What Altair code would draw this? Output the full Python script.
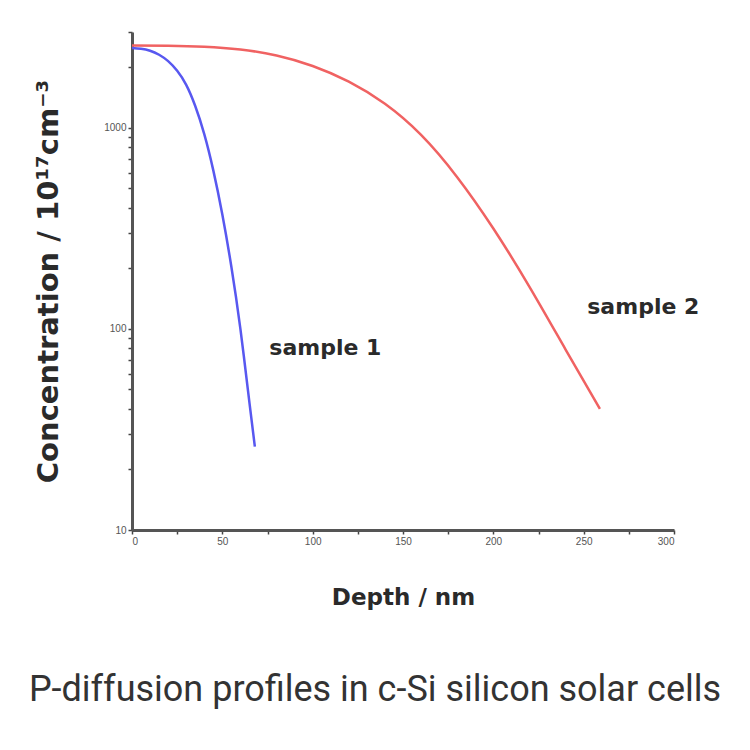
import altair as alt
import pandas as pd

# Sample 1 (blue) profile
depth1 = [0, 5, 10, 15, 20, 25, 30, 35, 40, 45, 50, 55, 60, 65, 68]
conc1 = [2500, 2477, 2421, 2312, 2148, 1923, 1637, 1285, 931, 615, 371, 204, 100, 43, 26]

# Sample 2 (red) profile
depth2 = [0, 20, 40, 60, 80, 100, 120, 140, 160, 180, 200, 220, 240, 259]
conc2 = [2570, 2564, 2535, 2455, 2291, 2032, 1698, 1318, 923, 569, 316, 162, 79, 40]

# annotations
label_text = ["sample 1", "sample 2"]
label_x = [76, 252]
label_y = [80, 128]

x_ticks = [0, 25, 50, 75, 100, 125, 150, 175, 200, 225, 250, 275, 300]
y_ticks = [10, 20, 30, 40, 50, 60, 70, 80, 90, 100, 200, 300, 400, 500, 600, 700, 800, 900, 1000, 2000, 3000]

caption = "P-diffusion profiles in c-Si silicon solar cells"

df = pd.concat([
    pd.DataFrame({"depth": depth1, "conc": conc1, "sample": "sample 1"}),
    pd.DataFrame({"depth": depth2, "conc": conc2, "sample": "sample 2"}),
])
lab = pd.DataFrame({"text": label_text, "depth": label_x, "conc": label_y})

W, H = 542, 498

xs = alt.X("depth:Q", scale=alt.Scale(domain=[0, 300], nice=False),
           axis=alt.Axis(values=x_ticks, title="Depth / nm",
                         labelExpr="datum.value % 50 == 0 ? datum.label : ''",
                         labelFontSize=10, labelColor="#555", labelFont="Liberation Sans",
                         tickColor="#444", tickSize=4, tickWidth=1.5,
                         domainColor="#555", domainWidth=3, grid=False,
                         titleFont="DejaVu Sans", titleFontSize=23, titleFontWeight="bold",
                         titleColor="#2a2a2a", titlePadding=40))
ys = alt.Y("conc:Q", scale=alt.Scale(type="log", domain=[10, 3000], nice=False),
           axis=alt.Axis(values=y_ticks, title="Concentration / 10¹⁷cm⁻³",
                         labelExpr="(datum.value == 10 || datum.value == 100 || datum.value == 1000) ? '' + datum.value : ''",
                         labelFontSize=10, labelColor="#555", labelFont="Liberation Sans",
                         tickColor="#444", tickSize=4, tickWidth=1.5,
                         domainColor="#555", domainWidth=3, grid=False,
                         titleFont="DejaVu Sans", titleFontSize=29, titleFontWeight="bold",
                         titleColor="#2a2a2a", titlePadding=40))

lines = alt.Chart(df).mark_line(strokeWidth=2.5, interpolate="natural").encode(
    x=xs, y=ys,
    color=alt.Color("sample:N", scale=alt.Scale(domain=["sample 1", "sample 2"],
                                                 range=["#5858f0", "#f06262"]), legend=None),
)

labels = alt.Chart(lab).mark_text(align="left", baseline="middle", font="DejaVu Sans",
                                  fontWeight="bold", fontSize=22, color="#2a2a2a").encode(
    x="depth:Q", y="conc:Q", text="text:N")

cap = alt.Chart(pd.DataFrame({"t": [caption]})).mark_text(
    align="center", baseline="middle", font="Roboto", fontSize=36, color="#333").encode(
    x=alt.value(243), y=alt.value(658), text="t:N")

chart = alt.layer(lines, labels, cap).properties(
    width=W, height=H,
    autosize=alt.AutoSizeParams(type="none"),
    padding={"left": 124, "top": 24, "right": 60, "bottom": 190},
).configure_view(stroke=None)

chart.save("out.html", embed_options={"renderer": "svg", "actions": False})
